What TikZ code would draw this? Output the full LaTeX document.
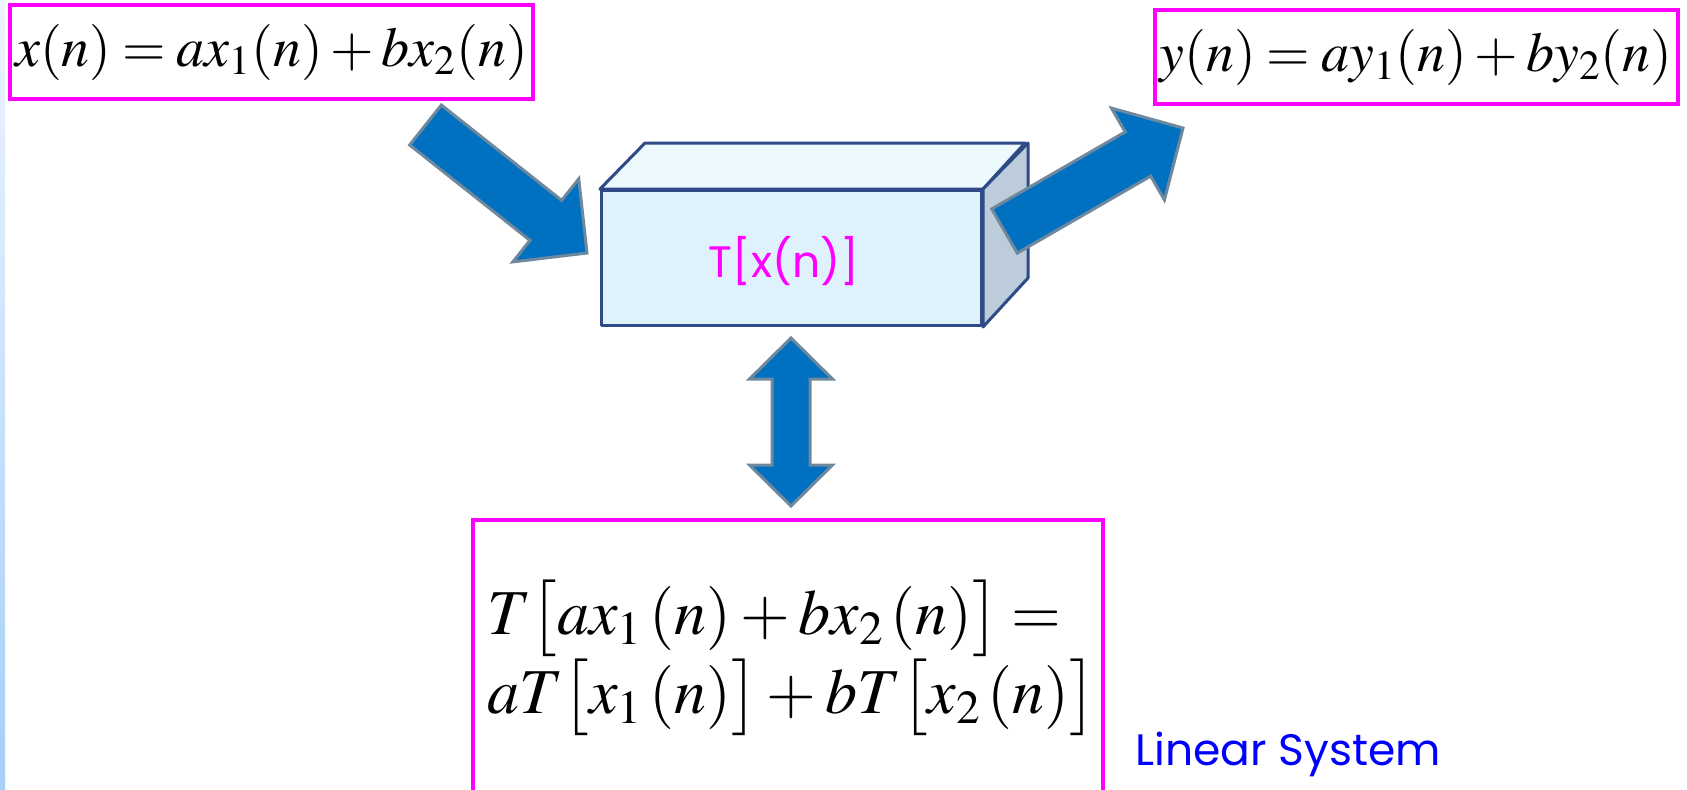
\documentclass[tikz,border=0pt]{standalone}
\usepackage{mathptmx}
\usepackage[no-math]{fontspec}
\newfontfamily\gothic{Poppins}
\usetikzlibrary{calc,positioning}
\definecolor{boxmagenta}{RGB}{255,0,255}
\definecolor{arrowblue}{RGB}{0,112,192}
\definecolor{arrowedge}{RGB}{110,136,158}
\definecolor{cubeedge}{RGB}{46,75,135}
\definecolor{cubefront}{RGB}{223,241,252}
\definecolor{cubetop}{RGB}{236,250,254}
\definecolor{cubeside}{RGB}{188,204,218}
\definecolor{stripblue}{RGB}{166,206,250}
\definecolor{labelblue}{RGB}{0,0,255}

\newcommand{\tightmath}{\thickmuskip=3.5mu\relax\medmuskip=2.5mu\relax}

\tikzset{
  magbox/.style={draw=boxmagenta, line width=2pt, inner sep=0pt},
  eqfont/.style={font=\fontsize{28}{33}\selectfont},
  fatarrow/.style={fill=arrowblue, draw=arrowedge, line width=1.5pt, line join=miter},
  cubeface/.style={draw=cubeedge, line width=1.5pt, line join=round},
}

% block arrow from tail (#1) to tip (#2): half shaft #3, half head #4, head length #5
\newcommand{\blockarrow}[5]{%
  \path[fatarrow] let \p1=($(#2)-(#1)$), \n1={atan2(\y1,\x1)}, \n2={veclen(\x1,\y1)} in
    ($(#1)+(\n1+90:#3)$) -- ($(#1)+(\n1:\n2-#5)+(\n1+90:#3)$)
    -- ($(#1)+(\n1:\n2-#5)+(\n1+90:#4)$) -- (#2)
    -- ($(#1)+(\n1:\n2-#5)+(\n1-90:#4)$) -- ($(#1)+(\n1:\n2-#5)+(\n1-90:#3)$)
    -- ($(#1)+(\n1-90:#3)$) -- cycle;}
% same, with a head at both ends
\newcommand{\dblarrow}[5]{%
  \path[fatarrow] let \p1=($(#2)-(#1)$), \n1={atan2(\y1,\x1)}, \n2={veclen(\x1,\y1)} in
    (#1) -- ($(#1)+(\n1:#5)+(\n1+90:#4)$) -- ($(#1)+(\n1:#5)+(\n1+90:#3)$)
    -- ($(#1)+(\n1:\n2-#5)+(\n1+90:#3)$) -- ($(#1)+(\n1:\n2-#5)+(\n1+90:#4)$) -- (#2)
    -- ($(#1)+(\n1:\n2-#5)+(\n1-90:#4)$) -- ($(#1)+(\n1:\n2-#5)+(\n1-90:#3)$)
    -- ($(#1)+(\n1:#5)+(\n1-90:#3)$) -- ($(#1)+(\n1:#5)+(\n1-90:#4)$) -- cycle;}

\begin{document}
\begin{tikzpicture}[x=0.5pt, y=-0.5pt]
  \useasboundingbox (0,0) rectangle (1687,789);
  \shade[top color=stripblue!20, bottom color=stripblue] (0,0) rectangle (5,789);

  % input and output
  \node[magbox, eqfont, minimum width=261.5pt, minimum height=47pt] (xsum) at (271.5,52)
    {\tightmath$x(n)=ax_1(n)+bx_2(n)$};
  \node[magbox, eqfont, minimum width=261.5pt, minimum height=47pt] (ysum) at (1416,57)
    {\tightmath$y(n)=ay_1(n)+by_2(n)$};

  % the system block
  \node[cubeface, fill=cubefront, minimum width=190pt, minimum height=67.5pt,
        anchor=north west] (sys) at (600,189) {};
  \draw[cubeface, fill=cubetop] (sys.north west) -- ++(45,-46) -- ++(380,0)
    -- (sys.north east) -- cycle;
  \draw[cubeface, fill=cubeside] (sys.north east) -- ++(45,-46) -- ++(0,135)
    -- (sys.south east) -- cycle;
  \node[anchor=base, text=boxmagenta, font=\gothic\fontsize{22}{26}\selectfont]
    (tx) at (784,277) {T[x(n)]};

  % linearity condition
  \node[magbox, anchor=north west, minimum height=138pt, text width=301pt,
        inner xsep=7pt, align=left, font=\fontsize{32}{36}\selectfont] (lin) at (471,518)
    {\tightmath\mbox{$T\big[ax_1\,(n)+bx_2\,(n)\big]=$}\\
     \tightmath\mbox{$aT\big[x_1\,(n)\big]+bT\big[x_2\,(n)\big]$}};
  \node[anchor=base, text=labelblue, font=\gothic\fontsize{22}{26}\selectfont]
    (title) at (1288,765) {Linear System};

  % arrows
  \coordinate (xin) at (425.5,125);
  \coordinate (xhit) at (587,253);
  \coordinate (yout) at (1004.5,231);
  \coordinate (yhit) at (1183,128);
  \coordinate (sysend) at (791,338);
  \coordinate (linend) at (791,506);
  \blockarrow{xin}{xhit}{12.75pt}{26.5pt}{26pt}
  \blockarrow{yout}{yhit}{12.75pt}{26.5pt}{26pt}
  \dblarrow{sysend}{linend}{9.5pt}{20.75pt}{20.5pt}
\end{tikzpicture}
\end{document}
